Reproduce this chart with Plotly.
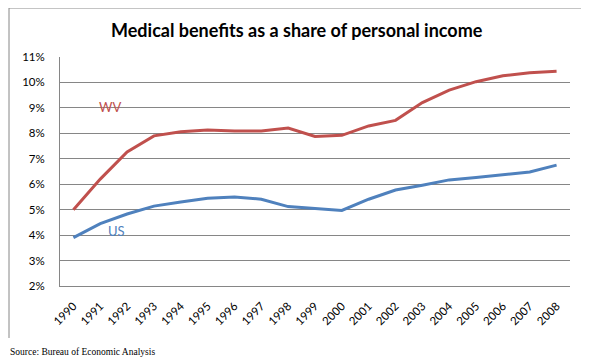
import plotly.graph_objects as go

years = [str(y) for y in range(1990, 2009)]
wv = [5.0, 6.2, 7.27, 7.9, 8.06, 8.13, 8.09, 8.09, 8.21, 7.88, 7.92, 8.29, 8.51, 9.21, 9.70, 10.03, 10.26, 10.38, 10.44]
us = [3.9, 4.45, 4.83, 5.14, 5.30, 5.45, 5.50, 5.41, 5.12, 5.05, 4.97, 5.41, 5.77, 5.96, 6.17, 6.26, 6.36, 6.48, 6.75]
ytick_vals = list(range(2, 12))
ytick_text = [f"{v}%" for v in ytick_vals]

WV_COLOR = "#C0504D"
US_COLOR = "#4F81BD"
GRID = "#868686"

fig = go.Figure()
fig.add_trace(go.Scatter(x=years, y=wv, mode="lines", name="WV",
                         line=dict(color=WV_COLOR, width=3)))
fig.add_trace(go.Scatter(x=years, y=us, mode="lines", name="US",
                         line=dict(color=US_COLOR, width=3)))

# page body has an 8px margin, so the figure is sized/offset to compensate
fig.update_layout(
    width=581, height=354,
    margin=dict(l=52, r=19, t=49, b=76),
    paper_bgcolor="white", plot_bgcolor="white",
    showlegend=False,
    font=dict(family="Lato, Calibri, sans-serif", size=11, color="black"),
)
fig.update_xaxes(
    type="category", range=[-0.5, 18.5],
    tickangle=-45, showgrid=False,
    showline=True, linecolor=GRID, linewidth=1,
    ticks="", ticklabelstandoff=8,
    tickfont=dict(size=11.5, color="black"),
)
fig.update_yaxes(
    range=[2, 11], tickvals=ytick_vals, ticktext=ytick_text,
    showgrid=True, gridcolor=GRID, gridwidth=1,
    showline=True, linecolor=GRID, linewidth=1,
    zeroline=False, ticks="", ticklabelstandoff=12,
    tickfont=dict(size=11.5, color="black"),
)

# outer chart border (top, left, right; bottom edge is cut off in the original)
border = dict(color=GRID, width=1)
fig.add_shape(type="line", xref="paper", yref="paper", x0=-0.1, x1=1.0294, y0=1.214, y1=1.214, line=border)
fig.add_shape(type="line", xref="paper", yref="paper", x0=-0.1, x1=-0.1, y0=1.214, y1=-0.227, line=border)
fig.add_shape(type="line", xref="paper", yref="paper", x0=1.0294, x1=1.0294, y0=1.214, y1=-0.24, line=border)

fig.add_annotation(text="<b>Medical benefits as a share of personal income</b>",
                   xref="paper", yref="paper", x=0.4647, y=1.118,
                   xanchor="center", yanchor="middle", showarrow=False,
                   font=dict(family="Lato, Calibri, sans-serif", size=18, color="black"))
fig.add_annotation(text="WV", x=1.36, y=9.04, xref="x", yref="y", showarrow=False,
                   font=dict(size=13, color=WV_COLOR))
fig.add_annotation(text="US", x=1.62, y=4.16, xref="x", yref="y", showarrow=False,
                   font=dict(size=13, color=US_COLOR))
fig.add_annotation(text="Source: Bureau of Economic Analysis",
                   xref="paper", yref="paper", x=-0.102, y=-0.288,
                   xanchor="left", yanchor="middle", showarrow=False,
                   font=dict(family="Liberation Serif, Times New Roman, serif", size=9.5, color="black"))

fig.write_html("out.html")
